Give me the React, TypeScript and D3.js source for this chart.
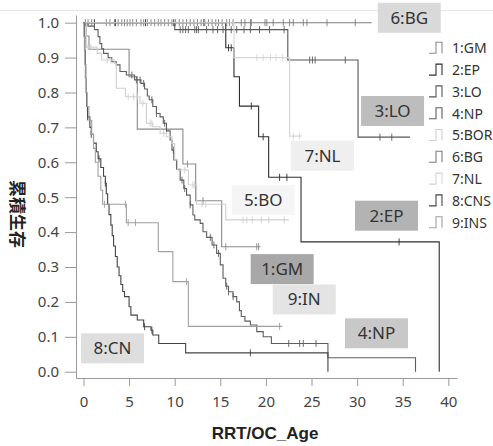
import React, { useEffect, useRef } from 'react';
import * as d3 from 'd3';

const W = 493;
const H = 446;

// groups, in legend order
const groupNames = ['1:GM', '2:EP', '3:LO', '4:NP', '5:BOR', '6:BG', '7:NL', '8:CNS', '9:INS'];
const groupColors = ['#8a8a8a', '#2e2e2e', '#575757', '#5e5e5e', '#cfcfcf', '#7b7b7b', '#d5d5d5', '#444444', '#a0a0a0'];

// [time, survival after the event]
const gmSteps = [[0.3, 0.962], [0.6, 0.924], [5.0, 0.845], [5.9, 0.695], [10.9, 0.595], [12.3, 0.49], [15.15, 0.358]];
const epSteps = [[15.6, 0.928], [16.5, 0.845], [17.1, 0.761], [19.2, 0.673], [20.3, 0.557], [23.85, 0.372], [39.0, 0]];
const loSteps = [[10.0, 0.98], [22.4, 0.893], [30.1, 0.672]];
const npSteps = [
  [0.5, 0.99], [1.2, 0.98], [1.6, 0.96], [1.8, 0.94], [2.0, 0.925], [2.2, 0.912], [2.7, 0.9], [3.1, 0.888],
  [3.6, 0.879], [4.0, 0.86], [4.7, 0.85], [5.6, 0.836], [6.3, 0.826], [6.7, 0.81], [7.0, 0.79], [7.2, 0.779],
  [7.6, 0.76], [8.0, 0.74], [8.4, 0.73], [8.75, 0.712], [9.1, 0.69], [9.5, 0.664], [9.7, 0.635], [9.9, 0.607],
  [10.2, 0.58], [10.6, 0.549], [11.0, 0.525], [11.3, 0.506], [11.7, 0.478], [12.0, 0.449], [12.2, 0.435],
  [12.8, 0.425], [13.1, 0.401], [13.5, 0.385], [14.1, 0.363], [14.6, 0.339], [15.0, 0.306], [15.3, 0.268],
  [15.6, 0.245], [15.9, 0.229], [16.4, 0.215], [16.8, 0.2], [17.1, 0.175], [17.3, 0.158], [17.7, 0.145],
  [18.3, 0.134], [19.0, 0.115], [19.7, 0.1], [20.6, 0.081], [26.8, 0.04], [36.4, 0]
];
const borSteps = [
  [0.3, 0.93], [1.5, 0.912], [2.0, 0.893], [3.4, 0.883], [3.6, 0.812], [4.6, 0.788], [6.2, 0.769], [6.9, 0.712],
  [7.6, 0.702], [8.4, 0.683], [9.1, 0.673], [9.7, 0.654], [10.0, 0.607], [10.3, 0.578], [11.5, 0.535],
  [12.4, 0.48], [15.6, 0.435]
];
const bgSteps: number[][] = [];
const nlSteps = [[16.5, 0.9], [22.6, 0.675]];
const cnsSteps = [
  [0.1, 0.96], [0.15, 0.92], [0.2, 0.88], [0.25, 0.84], [0.3, 0.8], [0.35, 0.76], [0.45, 0.73], [0.7, 0.7],
  [0.85, 0.68], [1.1, 0.655], [1.4, 0.63], [1.6, 0.61], [1.9, 0.585], [2.2, 0.56], [2.4, 0.54], [2.5, 0.51],
  [2.65, 0.48], [2.8, 0.45], [3.0, 0.42], [3.15, 0.39], [3.3, 0.36], [3.5, 0.33], [3.7, 0.3], [3.9, 0.275],
  [4.1, 0.25], [4.3, 0.23], [4.5, 0.215], [5.0, 0.186], [5.2, 0.162], [5.9, 0.148], [6.6, 0.129], [7.4, 0.119],
  [7.6, 0.105], [8.25, 0.081], [11.2, 0.054], [26.8, 0]
];
const insSteps = [
  [0.05, 0.96], [0.1, 0.92], [0.15, 0.88], [0.2, 0.84], [0.3, 0.8], [0.4, 0.76], [0.6, 0.72], [0.9, 0.68],
  [1.1, 0.64], [1.3, 0.6], [1.6, 0.56], [1.9, 0.52], [2.1, 0.48], [4.7, 0.427], [8.2, 0.344], [9.8, 0.258],
  [11.5, 0.13]
];

// censored times
const gmCensor = [9.1, 11.4, 13.1, 15.6, 19.0, 19.2];
const epCensor = [1.2, 3.5, 6.8, 9.9, 13.2, 15.9, 16.2, 18.4, 19.7, 21.5, 22.3, 34.6];
const loCensor = [10.6, 10.9, 11.2, 11.5, 12.2, 12.4, 12.6, 13.5, 14.2, 14.7, 15.3, 16.2, 16.8, 17.6, 18.3, 19.3, 20.4, 22.0, 24.8, 25.1, 25.4, 28.7, 32.5, 33.8];
const npCensor = [5.3, 5.8, 6.2, 6.6, 7.5, 8.0, 8.9, 9.85, 10.8, 11.1, 11.7, 13.9, 14.3, 14.8, 15.7, 15.9, 16.4, 22.5, 23.7, 24.1, 25.5];
const borCensor = [0.5, 0.8, 2.6, 3.0, 4.9, 5.5, 5.9, 6.5, 7.3, 7.5, 8.8, 11.1, 12.0, 12.2, 13.0, 13.4, 17.5, 17.9, 18.5, 19.5, 20.3, 22.0];
const bgCensor = [0.2, 0.5, 0.9, 2.5, 2.9, 3.4, 3.8, 4.2, 4.5, 4.8, 5.1, 5.4, 5.8, 6.3, 6.6, 7.0, 7.4, 7.8, 8.2, 8.5, 8.9, 9.3, 9.7, 10.1, 10.5, 10.9, 11.3, 11.7, 12.1, 12.5, 12.9, 13.3, 13.7, 14.1, 14.5, 14.8, 15.2, 15.7, 16.0, 16.4, 17.3, 17.7, 18.3, 18.4, 19.9, 20.1, 20.8, 21.9, 22.6, 23.0, 24.1, 24.5, 26.7, 29.8];
const nlCensor = [19.0, 19.7, 20.5, 21.1, 21.8, 23.0, 23.7];
const cnsCensor = [0.45, 0.85, 1.7, 2.4, 6.7, 7.5, 18.3];
const insCensor = [2.3, 4.6, 4.9, 5.7, 11.3, 21.5];

const endTimes = [19.4, 39.0, 35.8, 36.4, 22.5, 31.6, 23.9, 26.8, 21.8];

const stepsByGroup = [gmSteps, epSteps, loSteps, npSteps, borSteps, bgSteps, nlSteps, cnsSteps, insSteps];
const censorByGroup = [gmCensor, epCensor, loCensor, npCensor, borCensor, bgCensor, nlCensor, cnsCensor, insCensor];

// in-plot labels: text, box top-left in data units, fill
const labelNames = ['6:BG', '3:LO', '7:NL', '5:BO', '2:EP', '1:GM', '9:IN', '4:NP', '8:CN'];
const labelAnchors = [[32.26, 1.057], [30.43, 0.79], [22.75, 0.662], [16.25, 0.535], [29.77, 0.49], [18.33, 0.337], [20.75, 0.25], [28.67, 0.153], [-0.27, 0.11]];
const labelFills = ['#d9d9d9', '#bdbdbd', '#efefef', '#f5f5f5', '#b3b3b3', '#a8a8a8', '#e4e4e4', '#c8c8c8', '#dedede'];

const xTicks = [0, 5, 10, 15, 20, 25, 30, 35, 40];
const yTicks = [0, 0.1, 0.2, 0.3, 0.4, 0.5, 0.6, 0.7, 0.8, 0.9, 1.0];

const FONT = "'Noto Sans', 'DejaVu Sans', sans-serif";

function survivalAt(steps: number[][], t: number) {
  let s = 1;
  for (const [st, sv] of steps) if (st <= t) s = sv;
  return s;
}

function drawChart(node: SVGSVGElement) {
  const svg = d3.select(node);
  svg.selectAll('*').remove();

  const x = d3.scaleLinear().domain([-0.82, 40.95]).range([76, 457]);
  const y = d3.scaleLinear().domain([-0.018, 1.022]).range([378, 15]);

  // thin frame line on top
  svg.append('line')
    .attr('x1', 0).attr('x2', W).attr('y1', 10.5).attr('y2', 10.5)
    .attr('stroke', '#e6e6e6');

  const yAxis = svg.append('g')
    .attr('transform', 'translate(76,0)')
    .call(d3.axisLeft(y).tickValues(yTicks).tickFormat(d3.format('.1f')).tickSize(11).tickPadding(6).tickSizeOuter(0));
  const xAxis = svg.append('g')
    .attr('transform', 'translate(0,378)')
    .call(d3.axisBottom(x).tickValues(xTicks).tickFormat(d3.format('d')).tickSize(8).tickPadding(10).tickSizeOuter(0));
  for (const g of [yAxis, xAxis]) {
    g.attr('font-family', FONT).attr('font-size', 15);
    g.selectAll('.domain, line').attr('stroke', '#999');
    g.selectAll('text').attr('fill', '#444');
  }

  const line = d3.line<number[]>()
    .x(d => x(d[0]))
    .y(d => y(d[1]))
    .curve(d3.curveStepAfter);

  groupNames.forEach((name, i) => {
    const steps = stepsByGroup[i];
    const last = steps.length ? steps[steps.length - 1][1] : 1;
    const pts = [[0, 1], ...steps, [endTimes[i], last]];
    const g = svg.append('g').attr('stroke', groupColors[i]).attr('fill', 'none');
    g.append('path').attr('d', line(pts)).attr('stroke-width', 1.1);
    g.selectAll('line')
      .data(censorByGroup[i])
      .join('line')
      .attr('x1', d => x(d)).attr('x2', d => x(d))
      .attr('y1', d => y(survivalAt(steps, d)) - 3.5)
      .attr('y2', d => y(survivalAt(steps, d)) + 3.5)
      .attr('stroke-width', 0.9);
  });

  // labels on the plot
  const lab = svg.append('g').attr('font-family', FONT).attr('font-size', 17);
  labelNames.forEach((name, i) => {
    const [t, s] = labelAnchors[i];
    lab.append('rect')
      .attr('x', x(t)).attr('y', y(s))
      .attr('width', 63).attr('height', 30)
      .attr('fill', labelFills[i]);
    lab.append('text')
      .attr('x', x(t) + 31.5).attr('y', y(s) + 15)
      .attr('dy', '0.35em')
      .attr('text-anchor', 'middle')
      .attr('fill', '#333')
      .text(name);
  });

  // legend
  const leg = svg.append('g').attr('font-family', FONT).attr('font-size', 14);
  groupNames.forEach((name, i) => {
    const cy = 48.3 + 21.8 * i;
    leg.append('path')
      .attr('d', `M429,${cy + 5}H436V${cy - 6}H442V${cy + 5}`)
      .attr('fill', 'none')
      .attr('stroke', groupColors[i])
      .attr('stroke-width', 1.1);
    leg.append('text')
      .attr('x', 452).attr('y', cy)
      .attr('dy', '0.35em')
      .attr('fill', '#333')
      .text(name);
  });

  // axis titles
  svg.append('text')
    .attr('x', 265).attr('y', 439)
    .attr('text-anchor', 'middle')
    .attr('font-family', "'Liberation Sans', Arial, sans-serif")
    .attr('font-weight', 'bold')
    .attr('font-size', 17)
    .attr('fill', '#222')
    .text('RRT/OC_Age');

  svg.append('text')
    .attr('transform', 'translate(17,214) rotate(90)')
    .attr('text-anchor', 'middle')
    .attr('dy', '0.35em')
    .attr('font-family', "'Noto Sans CJK JP', 'Noto Sans CJK KR', sans-serif")
    .attr('font-weight', 'bold')
    .attr('font-size', 17)
    .attr('fill', '#222')
    .text('累積生存');
}

export default function App() {
  const ref = useRef<SVGSVGElement>(null);
  useEffect(() => {
    if (ref.current) drawChart(ref.current);
  }, []);
  return (
    <svg
      ref={ref}
      width={W}
      height={H}
      style={{ position: 'absolute', left: 0, top: 0, background: '#fff' }}
    />
  );
}
